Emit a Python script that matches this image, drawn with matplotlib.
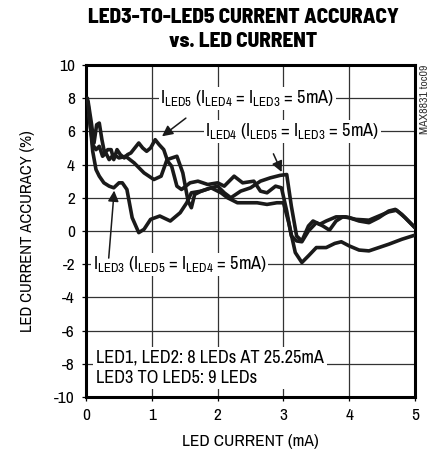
import matplotlib
matplotlib.use("Agg")
import matplotlib.pyplot as plt

plt.rcParams['font.family'] = ['Archivo Narrow', 'DejaVu Sans']
plt.rcParams['mathtext.fontset'] = 'custom'
plt.rcParams['mathtext.rm'] = 'Archivo Narrow'
plt.rcParams['axes.unicode_minus'] = False

# ILED5 (ILED4 = ILED3 = 5mA)
x5 = [0.03, 0.08, 0.12, 0.16, 0.2, 0.24, 0.28, 0.33, 0.38, 0.42, 0.47, 0.52, 0.58, 0.63, 0.68,
      0.74, 0.8, 0.86, 0.92, 0.98, 1.05, 1.11, 1.18, 1.24, 1.3, 1.38, 1.45, 1.58, 1.7, 1.85,
      2.0, 2.1, 2.25, 2.38, 2.55, 2.65, 2.75, 2.88, 2.97, 3.05, 3.12, 3.2, 3.28, 3.38, 3.5,
      3.6, 3.7, 3.8, 3.9, 4.0, 4.15, 4.3, 4.45, 4.6, 4.7, 4.8, 4.9, 5.0]
y5 = [7.8, 6.5, 5.3, 6.4, 6.5, 5.5, 4.7, 4.9, 4.9, 4.3, 4.9, 4.6, 4.4, 4.6, 4.7,
      5.0, 5.3, 5.0, 4.8, 5.0, 5.5, 5.2, 4.9, 4.2, 3.9, 2.7, 2.5, 2.9, 3.0, 2.8,
      2.9, 2.7, 3.3, 2.9, 3.0, 2.4, 2.3, 2.7, 2.6, 1.2, -0.3, -0.6, -0.65, 0.0, 0.5,
      0.3, 0.05, 0.6, 0.85, 0.8, 0.6, 0.5, 0.8, 1.2, 1.3, 1.0, 0.6, 0.2]

# ILED4 (ILED5 = ILED3 = 5mA)
x4 = [0.04, 0.1, 0.15, 0.2, 0.25, 0.3, 0.35, 0.42, 0.5, 0.6, 0.73, 0.88, 1.03, 1.14, 1.23,
      1.38, 1.47, 1.55, 1.6, 1.65, 1.75, 1.9, 2.0, 2.1, 2.2, 2.35, 2.5, 2.65, 2.8, 2.95,
      3.05, 3.12, 3.2, 3.28, 3.38, 3.45, 3.55, 3.65, 3.8, 3.95, 4.1, 4.3, 4.45, 4.6, 4.72,
      4.85, 5.0]
y4 = [7.0, 5.2, 4.9, 5.1, 4.5, 4.7, 4.3, 4.6, 4.4, 4.5, 4.1, 3.5, 3.1, 3.3, 4.3,
      4.5, 3.5, 1.8, 1.4, 2.2, 2.4, 2.6, 2.7, 2.3, 2.0, 2.4, 2.6, 3.0, 3.2, 3.35,
      3.4, 1.5, -0.3, -0.6, 0.3, 0.6, 0.4, 0.6, 0.85, 0.85, 0.7, 0.65, 0.9, 1.15, 1.25,
      0.8, 0.2]

# ILED3 (ILED5 = ILED4 = 5mA)
x3 = [0.02, 0.06, 0.1, 0.15, 0.2, 0.27, 0.35, 0.42, 0.5, 0.55, 0.62, 0.7, 0.8, 0.88, 0.98,
      1.12, 1.28, 1.43, 1.53, 1.6, 1.75, 1.9, 2.05, 2.15, 2.3, 2.45, 2.6, 2.75, 2.9, 3.0,
      3.08, 3.18, 3.28, 3.38, 3.5, 3.65, 3.78, 3.88, 4.0, 4.15, 4.3, 4.45, 4.6, 4.8, 5.0]
y3 = [8.0, 6.5, 4.8, 3.7, 3.3, 2.9, 2.7, 2.6, 2.9, 2.9, 2.5, 0.8, -0.1, 0.1, 0.7,
      0.9, 0.6, 1.1, 1.7, 2.3, 2.4, 2.6, 2.3, 2.0, 1.7, 1.7, 1.7, 1.6, 1.7, 1.7,
      0.5, -1.3, -1.9, -1.5, -1.0, -1.0, -0.75, -0.65, -0.9, -1.15, -1.2, -1.0, -0.8, -0.5, -0.25]

xticks = [0, 1, 2, 3, 4, 5]
yticks = [-10, -8, -6, -4, -2, 0, 2, 4, 6, 8, 10]

fig = plt.figure(figsize=(4.35, 4.54), dpi=100)
ax = fig.add_axes([0.198, 0.1256, 0.756, 0.7313])

for xs, ys in [(x5, y5), (x4, y4), (x3, y3)]:
    ax.plot(xs, ys, color='#1a1a1a', lw=2.6, solid_capstyle='round', zorder=3)

ax.set_xlim(0, 5)
ax.set_ylim(-10, 10)
ax.set_xticks(xticks)
ax.set_yticks(yticks)
ax.grid(True, color='#333333', lw=0.9)
ax.tick_params(length=3, width=0.9, labelsize=12.5, pad=5)
for s in ax.spines.values():
    s.set_linewidth(2.2)

ax.set_xlabel('LED CURRENT (mA)', fontsize=12.5, labelpad=8)
ax.set_ylabel('LED CURRENT ACCURACY (%)', fontsize=12, labelpad=14)
fig.suptitle('LED3-TO-LED5 CURRENT ACCURACY\nvs. LED CURRENT', x=0.56, y=0.982,
             fontsize=15.3, fontweight=800, family=['Barlow Semi Condensed', 'DejaVu Sans'],
             linespacing=1.3)

box = dict(facecolor='white', edgecolor='none', pad=1.0)
ax.text(1.13, 8, r'I$_\mathrm{LED5}$ (I$_\mathrm{LED4}$ = I$_\mathrm{LED3}$ = 5mA)',
        fontsize=13.2, va='center', ha='left', bbox=box, zorder=4)
ax.text(1.81, 6, r'I$_\mathrm{LED4}$ (I$_\mathrm{LED5}$ = I$_\mathrm{LED3}$ = 5mA)',
        fontsize=13.2, va='center', ha='left', bbox=box, zorder=4)
ax.text(0.1, -2, r'I$_\mathrm{LED3}$ (I$_\mathrm{LED5}$ = I$_\mathrm{LED4}$ = 5mA)',
        fontsize=13.2, va='center', ha='left', bbox=box, zorder=4)
ax.text(0.15, -8.25, 'LED1, LED2: 8 LEDs AT 25.25mA\nLED3 TO LED5: 9 LEDs',
        fontsize=13.2, va='center', ha='left', linespacing=1.3,
        bbox=dict(facecolor='white', edgecolor='none', pad=2.0), zorder=4)

arrow = dict(arrowstyle='-|>', color='#1a1a1a', lw=1.1, mutation_scale=16)
ax.annotate('', xy=(1.12, 5.6), xytext=(1.55, 6.9), arrowprops=arrow, zorder=5)
ax.annotate('', xy=(2.99, 3.4), xytext=(2.83, 4.8), arrowprops=arrow, zorder=5)
ax.annotate('', xy=(0.43, 2.6), xytext=(0.34, -1.8), arrowprops=arrow, zorder=5)

fig.text(0.977, 0.857, 'MAX8831 toc09', rotation=90, fontsize=8.5, va='top', ha='center',
         color='#333333')

fig.savefig('out.png', dpi=100)
